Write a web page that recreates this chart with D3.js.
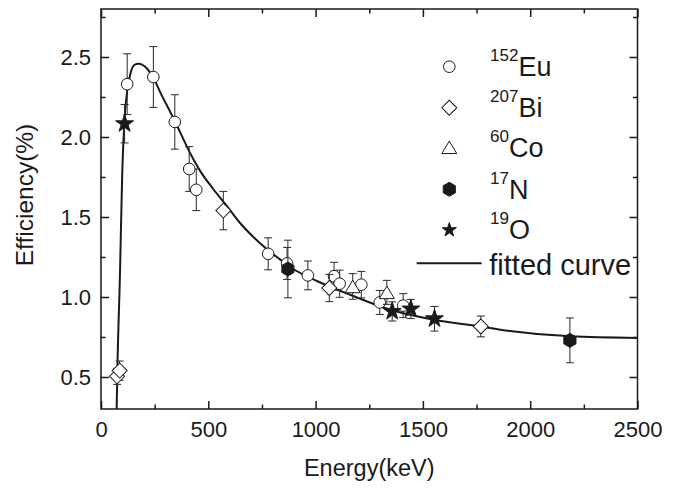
<!DOCTYPE html>
<html>
<head>
<meta charset="utf-8">
<script src="https://cdn.jsdelivr.net/npm/d3@7"></script>
<style>
  body { margin: 0; background: #fff; }
  svg { display: block; font-family: 'Liberation Sans', Arial, sans-serif; }
</style>
</head>
<body>
<div id="chart"></div>
<script>
// Efficiency data (energy in keV, efficiency in %)
var euEnergy = [122, 244, 344, 411, 444, 779, 867, 964, 1086, 1112, 1213, 1299, 1408];
var euEff = [2.33, 2.375, 2.094, 1.8, 1.67, 1.27, 1.21, 1.135, 1.13, 1.083, 1.077, 0.966, 0.946];
var euErr = [0.19, 0.19, 0.17, 0.14, 0.13, 0.1, 0.1, 0.09, 0.087, 0.085, 0.083, 0.075, 0.075];

var biEnergy = [75, 87, 570, 1064, 1770];
var biEff = [0.504, 0.54, 1.54, 1.056, 0.816];
var biErr = [0.05, 0.06, 0.12, 0.085, 0.065];

var coEnergy = [1173, 1332];
var coEff = [1.066, 1.029];
var coErr = [0.08, 0.075];

var nEnergy = [871, 2185];
var nEff = [1.175, 0.729];
var nErr = [0.18, 0.14];

var oEnergy = [110, 1357, 1444, 1554];
var oEff = [2.083, 0.91, 0.925, 0.864];
var oErr = [0.12, 0.06, 0.06, 0.077];

// Points picked along the fitted curve
var curveEnergy = [73, 76, 88.5, 99, 108.7, 122.8, 138, 155, 174, 213, 244, 283, 314, 344, 415, 461, 523, 586, 648, 710, 772, 834, 896, 958, 1006, 1161, 1348, 1550, 1783, 1861, 2188, 2500];
var curveEff = [0.3, 0.525, 1.15, 1.775, 2.09, 2.296, 2.4, 2.45, 2.458, 2.43, 2.37, 2.26, 2.18, 2.1, 1.9, 1.79, 1.675, 1.57, 1.4625, 1.375, 1.3, 1.235, 1.175, 1.13, 1.1, 1.014, 0.92, 0.858, 0.8125, 0.796, 0.754, 0.744];

// Axis ticks
var xMajorTicks = [0, 500, 1000, 1500, 2000, 2500];
var xMinorTicks = [250, 750, 1250, 1750, 2250];
var yMajorTicks = [0.5, 1.0, 1.5, 2.0, 2.5];
var yMinorTicks = [0.75, 1.25, 1.75, 2.25, 2.75];

var legendSup = ['152', '207', '60', '17', '19'];
var legendName = ['Eu', 'Bi', 'Co', 'N', 'O'];

var width = 679, height = 489;
var plot = { left: 101, right: 637.5, top: 9, bottom: 409 };
var ink = '#1a1a1a';

var x = d3.scaleLinear().domain([0, 2500]).range([plot.left, plot.right]);
var y = d3.scaleLinear().domain([0.3, 2.8]).range([plot.bottom, plot.top]);

var svg = d3.select('#chart').append('svg').attr('width', width).attr('height', height);

// symbol shapes
function hexagon(r) {
  var pts = d3.range(6).map(function (i) {
    var a = (-90 + i * 60) * Math.PI / 180;
    return [r * Math.cos(a), r * Math.sin(a)];
  });
  return 'M' + pts.join('L') + 'Z';
}
function triangle(w, h) {
  return 'M0,' + (-h / 2) + 'L' + w + ',' + (h / 2) + 'L' + (-w) + ',' + (h / 2) + 'Z';
}
var shapes = {
  circle: { d: d3.symbol(d3.symbolCircle, 106)(), fill: '#fff', rot: 0 },
  diamond: { d: d3.symbol(d3.symbolSquare, 112)(), fill: '#fff', rot: 45 },
  triangle: { d: triangle(7.5, 12.5), fill: '#fff', rot: 0 },
  hexagon: { d: hexagon(7), fill: ink, rot: 0 },
  star: { d: d3.symbol(d3.symbolStar, 100)(), fill: ink, rot: 0 },
  starSmall: { d: d3.symbol(d3.symbolStar, 62)(), fill: ink, rot: 0 }
};

var series = [
  { shape: 'circle', e: euEnergy, v: euEff, err: euErr },
  { shape: 'diamond', e: biEnergy, v: biEff, err: biErr },
  { shape: 'triangle', e: coEnergy, v: coEff, err: coErr },
  { shape: 'hexagon', e: nEnergy, v: nEff, err: nErr },
  { shape: 'star', e: oEnergy, v: oEff, err: oErr }
];

svg.append('clipPath').attr('id', 'clip')
  .append('rect')
  .attr('x', plot.left).attr('y', plot.top)
  .attr('width', plot.right - plot.left).attr('height', plot.bottom - plot.top);

// fitted curve
var curvePts = curveEnergy.map(function (e, i) { return [e, curveEff[i]]; });
svg.append('path')
  .attr('clip-path', 'url(#clip)')
  .attr('d', d3.line().x(function (d) { return x(d[0]); }).y(function (d) { return y(d[1]); }).curve(d3.curveMonotoneX)(curvePts))
  .attr('fill', 'none').attr('stroke', ink).attr('stroke-width', 2);

// error bars then symbols
series.forEach(function (s) {
  var pts = s.e.map(function (e, i) { return { e: e, v: s.v[i], err: s.err[i] }; });
  var g = svg.append('g');
  var bars = g.selectAll('g.err').data(pts).join('g').classed('err', true)
    .attr('stroke', '#2a2a2a').attr('stroke-width', 1);
  bars.append('line')
    .attr('x1', function (d) { return x(d.e); }).attr('x2', function (d) { return x(d.e); })
    .attr('y1', function (d) { return y(d.v - d.err); }).attr('y2', function (d) { return y(d.v + d.err); });
  [-1, 1].forEach(function (k) {
    bars.append('line')
      .attr('x1', function (d) { return x(d.e) - 4; }).attr('x2', function (d) { return x(d.e) + 4; })
      .attr('y1', function (d) { return y(d.v + k * d.err); }).attr('y2', function (d) { return y(d.v + k * d.err); });
  });
  var sh = shapes[s.shape];
  g.selectAll('path.mark').data(pts).join('path').classed('mark', true)
    .attr('d', sh.d)
    .attr('transform', function (d) { return 'translate(' + x(d.e) + ',' + y(d.v) + ') rotate(' + sh.rot + ')'; })
    .attr('fill', sh.fill).attr('stroke', ink).attr('stroke-width', 1);
});

// axes: inward ticks on all four sides
function styleAxis(sel) {
  sel.select('.domain').remove();
  sel.selectAll('.tick line').attr('stroke', ink).attr('stroke-width', 1.5);
  sel.selectAll('.tick text').attr('fill', ink).attr('font-size', 22).attr('font-family', null);
}
svg.append('g').attr('transform', 'translate(0,' + plot.bottom + ')')
  .call(d3.axisBottom(x).tickValues(xMajorTicks).tickSize(-8).tickSizeOuter(0).tickPadding(12.5).tickFormat(d3.format('d')))
  .call(styleAxis);
svg.append('g').attr('transform', 'translate(0,' + plot.bottom + ')')
  .call(d3.axisBottom(x).tickValues(xMinorTicks).tickSize(-4.5).tickFormat(''))
  .call(styleAxis);
svg.append('g').attr('transform', 'translate(0,' + plot.top + ')')
  .call(d3.axisTop(x).tickValues(xMajorTicks).tickSize(-8).tickFormat(''))
  .call(styleAxis);
svg.append('g').attr('transform', 'translate(0,' + plot.top + ')')
  .call(d3.axisTop(x).tickValues(xMinorTicks).tickSize(-4.5).tickFormat(''))
  .call(styleAxis);
svg.append('g').attr('transform', 'translate(' + plot.left + ',0)')
  .call(d3.axisLeft(y).tickValues(yMajorTicks).tickSize(-8).tickPadding(10).tickFormat(d3.format('.1f')))
  .call(styleAxis);
svg.append('g').attr('transform', 'translate(' + plot.left + ',0)')
  .call(d3.axisLeft(y).tickValues(yMinorTicks).tickSize(-4.5).tickFormat(''))
  .call(styleAxis);
svg.append('g').attr('transform', 'translate(' + plot.right + ',0)')
  .call(d3.axisRight(y).tickValues(yMajorTicks).tickSize(-8).tickFormat(''))
  .call(styleAxis);
svg.append('g').attr('transform', 'translate(' + plot.right + ',0)')
  .call(d3.axisRight(y).tickValues(yMinorTicks).tickSize(-4.5).tickFormat(''))
  .call(styleAxis);

svg.append('rect')
  .attr('x', plot.left).attr('y', plot.top)
  .attr('width', plot.right - plot.left).attr('height', plot.bottom - plot.top)
  .attr('fill', 'none').attr('stroke', ink).attr('stroke-width', 1.5);

// axis titles
svg.append('text')
  .attr('x', (plot.left + plot.right) / 2).attr('y', 476)
  .attr('text-anchor', 'middle').attr('font-size', 23.5).attr('fill', ink)
  .text('Energy(keV)');
svg.append('text')
  .attr('transform', 'translate(33,195) rotate(-90)')
  .attr('text-anchor', 'middle').attr('font-size', 24.5).attr('fill', ink)
  .text('Efficiency(%)');

// legend
var legendY = [66.7, 107.7, 147.3, 189.3, 230];
var legend = svg.append('g');
series.forEach(function (s, i) {
  var sh = s.shape === 'star' ? shapes.starSmall : shapes[s.shape];
  legend.append('path')
    .attr('d', sh.d)
    .attr('transform', 'translate(449.3,' + legendY[i] + ') rotate(' + sh.rot + ')')
    .attr('fill', sh.fill).attr('stroke', ink).attr('stroke-width', 1);
  var t = legend.append('text').attr('x', 490).attr('y', legendY[i] + 9.3).attr('fill', ink);
  t.append('tspan').attr('font-size', 17).attr('dy', -15).text(legendSup[i]);
  t.append('tspan').attr('font-size', 27).attr('dy', 15).text(legendName[i]);
});
legend.append('line')
  .attr('x1', 416.7).attr('x2', 481.7).attr('y1', 263.3).attr('y2', 263.3)
  .attr('stroke', ink).attr('stroke-width', 2);
legend.append('text')
  .attr('x', 489.3).attr('y', 275).attr('font-size', 29).attr('fill', ink)
  .text('fitted curve');
</script>
</body>
</html>
